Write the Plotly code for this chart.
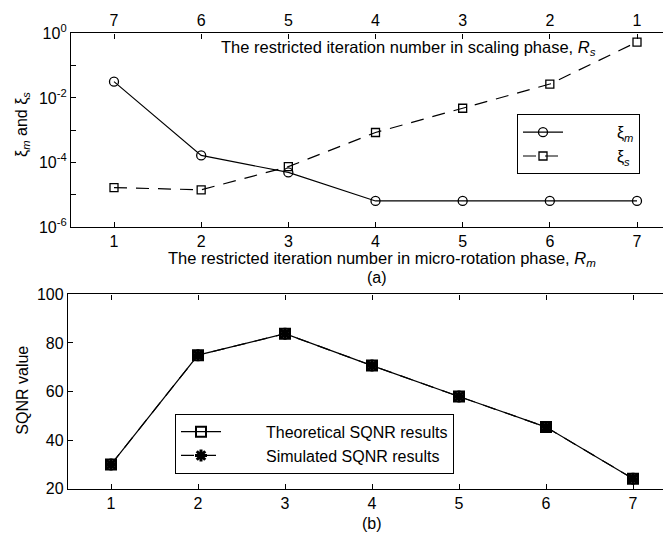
import plotly.graph_objects as go

# ---- data ----
rm = [1, 2, 3, 4, 5, 6, 7]                      # restricted iteration number, micro-rotation
rs_labels = ["7", "6", "5", "4", "3", "2", "1"] # restricted iteration number, scaling (top axis)
xi_m = [3.2e-2, 1.65e-4, 4.9e-5, 6.4e-6, 6.4e-6, 6.4e-6, 6.4e-6]
xi_s = [1.66e-5, 1.42e-5, 7.4e-5, 8.5e-4, 4.8e-3, 2.7e-2, 0.54]
sqnr_theory = [30.0, 75.0, 83.8, 70.7, 58.0, 45.4, 24.2]
sqnr_sim = [30.0, 75.0, 83.8, 70.7, 58.0, 45.4, 24.2]
log_ticks = [1, 1e-1, 1e-2, 1e-3, 1e-4, 1e-5, 1e-6]
log_text = ["10<sup>0</sup>", "", "10<sup>-2</sup>", "", "10<sup>-4</sup>", "", "10<sup>-6</sup>"]
sqnr_ticks = [20, 40, 60, 80, 100]

W, H = 671, 538
FONT = "Liberation Sans, Arial, sans-serif"
NB = "\u00a0"

def px(x):
    return x / W

def py(y):
    return 1 - y / H

fig = go.Figure()

# top panel
fig.add_trace(go.Scatter(x=rm, y=xi_m, mode="lines+markers", name=NB * 11 + "ξ<sub><i>m</i></sub>",
                         line=dict(color="black", width=1.2),
                         marker=dict(symbol="circle-open", size=9, color="black", line=dict(width=1.3)),
                         xaxis="x", yaxis="y", legend="legend"))
fig.add_trace(go.Scatter(x=rm, y=xi_s, mode="lines+markers", name=NB * 11 + "ξ<sub><i>s</i></sub>",
                         line=dict(color="black", width=1.2, dash="13px,9px"),
                         marker=dict(symbol="square-open", size=8, color="black", line=dict(width=1.3)),
                         xaxis="x", yaxis="y", legend="legend"))
# dummy for top axis
fig.add_trace(go.Scatter(x=rm, y=xi_m, mode="none", showlegend=False, hoverinfo="skip",
                         xaxis="x2", yaxis="y"))

# bottom panel
fig.add_trace(go.Scatter(x=rm, y=sqnr_theory, mode="lines+markers",
                         name=NB * 9 + "Theoretical SQNR results",
                         line=dict(color="black", width=1.2),
                         marker=dict(symbol="square-open", size=10, color="black", line=dict(width=2)),
                         xaxis="x3", yaxis="y3", legend="legend2"))
fig.add_trace(go.Scatter(x=rm, y=sqnr_sim, mode="lines+markers",
                         name=NB * 9 + "Simulated SQNR results",
                         line=dict(color="black", width=1.2, dash="13px,9px"),
                         marker=dict(symbol="asterisk-open", size=10, color="black", line=dict(width=3)),
                         xaxis="x3", yaxis="y3", legend="legend2"))

axis_common = dict(showgrid=False, zeroline=False, showline=True, linecolor="black", linewidth=1.3,
                   ticks="inside", ticklen=5, tickcolor="black", tickwidth=1,
                   tickfont=dict(family=FONT, size=16, color="black"))

top_range = [1 - 43 / 87.17, 7 + 42 / 87.17]
bot_range = [1 - 43 / 87.0, 7 + 44 / 87.0]

fig.update_layout(
    width=W, height=H,
    margin=dict(l=0, r=0, t=0, b=0),
    paper_bgcolor="white", plot_bgcolor="white",
    font=dict(family=FONT, size=16, color="black"),
    xaxis=dict(domain=[px(63), 1.0], anchor="y", range=top_range,
               tickvals=rm, ticktext=[str(v) for v in rm], **axis_common),
    xaxis2=dict(overlaying="x", side="top", anchor="y", range=top_range,
                tickvals=rm, ticktext=rs_labels, **axis_common),
    yaxis=dict(domain=[py(216), py(15)], anchor="x", type="log", range=[-6, 0],
               tickvals=log_ticks, ticktext=log_text, **axis_common),
    xaxis3=dict(domain=[px(60), px(669)], anchor="y3", range=bot_range,
                tickvals=rm, mirror="ticks", **axis_common),
    yaxis3=dict(domain=[py(488), py(286)], anchor="x3", range=[20, 100],
                tickvals=sqnr_ticks, mirror="ticks", **axis_common),
    legend=dict(x=px(509), y=py(99), xanchor="left", yanchor="top",
                bgcolor="white", bordercolor="black", borderwidth=1,
                font=dict(family=FONT, size=16, color="black"),
                itemwidth=40, tracegroupgap=0),
    legend2=dict(x=px(167), y=py(410), xanchor="left", yanchor="top",
                 bgcolor="white", bordercolor="black", borderwidth=1,
                 font=dict(family=FONT, size=16, color="black"),
                 itemwidth=40),
    showlegend=True,
)

ann = [
    dict(x=px(211), y=py(30), text="The restricted iteration number in scaling phase, <i>R<sub>s</sub></i>",
         xanchor="left", yanchor="middle", size=16.5),
    dict(x=px(158), y=py(249), text="The restricted iteration number in micro-rotation phase, <i>R<sub>m</sub></i>",
         xanchor="left", yanchor="middle", size=16.5),
    dict(x=px(369), y=py(268), text="(a)", xanchor="center", yanchor="middle", size=16),
    dict(x=px(364), y=py(524), text="(b)", xanchor="center", yanchor="middle", size=16),
    dict(x=px(15), y=py(110), text="ξ<sub><i>m</i></sub> and ξ<sub><i>s</i></sub>", textangle=-90,
         xanchor="center", yanchor="middle", size=16),
    dict(x=px(15), y=py(386), text="SQNR value", textangle=-90, xanchor="center", yanchor="middle", size=16),
]
for a in ann:
    s = a.pop("size")
    a.update(xref="paper", yref="paper", showarrow=False,
             font=dict(family=FONT, size=s, color="black"))
fig.update_layout(annotations=ann)

fig.write_html("out.html")
